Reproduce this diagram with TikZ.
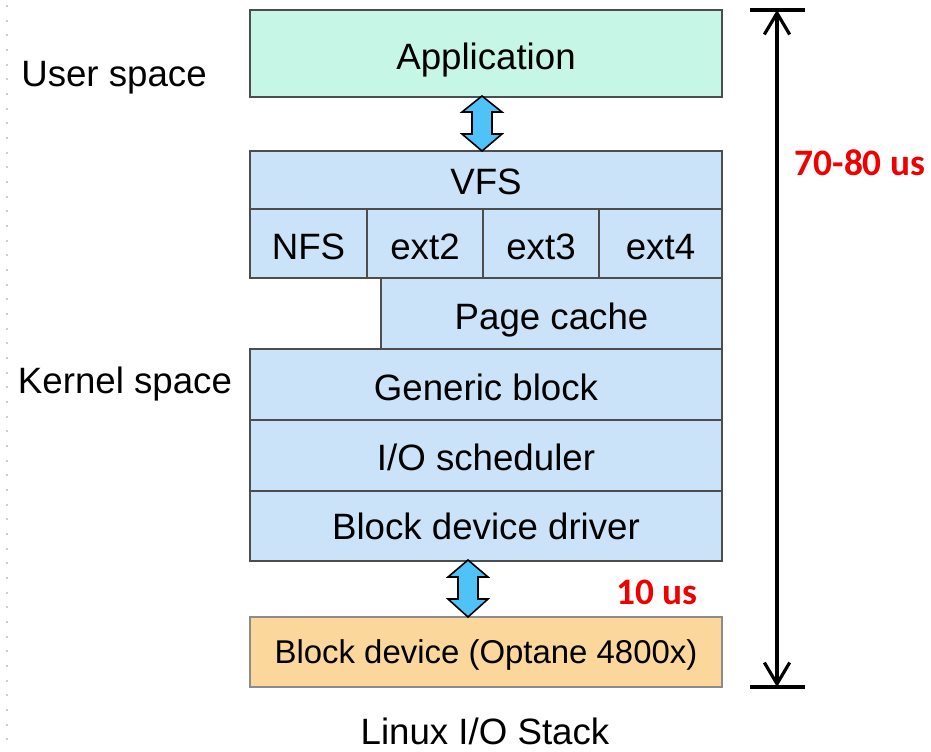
\documentclass[tikz,border=0pt]{standalone}
\usepackage{fontspec}
\setmainfont{Liberation Sans}
\newfontfamily\latfont{Carlito}
\usetikzlibrary{arrows.meta}
\definecolor{mintfill}{HTML}{C6F6E6}
\definecolor{layerfill}{HTML}{CBE3F8}
\definecolor{devfill}{HTML}{FBD79B}
\definecolor{boxline}{HTML}{4D4D4D}
\definecolor{devline}{HTML}{8C8C8C}
\definecolor{arrowfill}{HTML}{4FC3F7}
\definecolor{latred}{HTML}{F00000}
\tikzset{
  layer/.style={draw=boxline, line width=1.5pt, fill=layerfill},
  layertext/.style={font=\fontsize{27.5}{33}\selectfont, inner sep=0pt, anchor=base},
  sidelabel/.style={font=\fontsize{27.5}{33}\selectfont, inner sep=0pt, anchor=base},
  latency/.style={font=\latfont\bfseries\fontsize{28}{33}\selectfont, text=latred, inner sep=0pt, anchor=base},
  flowarrow/.style={draw=black, line width=1.2pt, fill=arrowfill, line join=miter},
}
% name, x0, y0, x1, y1, baseline, text
\newcommand{\layerbox}[7]{%
  \path[layer] (#2,#3) rectangle (#4,#5);
  \node[layertext] (#1) at ({(#2+#4)/2},#6) {#7};
}
% vertical double arrow: cx, top tip, head base top, head base bottom, bottom tip
\newcommand{\dblarrow}[5]{%
  \path[flowarrow] (#1,#2) -- (#1+20,#3) -- (#1+10,#3) -- (#1+10,#4) -- (#1+20,#4)
    -- (#1,#5) -- (#1-20,#4) -- (#1-10,#4) -- (#1-10,#3) -- (#1-20,#3) -- cycle;
}
\begin{document}
\begin{tikzpicture}[x=0.75pt,y=-0.75pt]
  \useasboundingbox[fill=white] (0,0) rectangle (931,751);
  % faint guide dots at the left edge
  \draw[gray!40, line width=1.2pt, dash pattern=on 1.5pt off 9.5pt] (7,5) -- (7,748);

  % application layer
  \path[layer, fill=mintfill] (250,10) rectangle (722,97);
  \node[layertext] (app) at (486,69) {Application};

  % kernel layers
  \layerbox{vfs}{250}{151}{722}{209}{194}{VFS}
  \layerbox{nfs}{250}{209}{367}{278}{259}{NFS}
  \layerbox{exttwo}{367}{209}{483}{278}{259}{ext2}
  \layerbox{extthree}{483}{209}{599}{278}{259}{ext3}
  \layerbox{extfour}{599}{209}{722}{278}{259}{ext4}
  \layerbox{cache}{381}{278}{722}{349}{329}{Page cache}
  \layerbox{generic}{250}{349}{722}{420}{400}{Generic block}
  \layerbox{sched}{250}{420}{722}{491}{470}{I/O scheduler}
  \layerbox{driver}{250}{491}{722}{561}{539}{Block device driver}

  % device
  \path[layer, draw=devline, fill=devfill] (250,617) rectangle (722,687);
  \node[layertext, font=\fontsize{24.7}{30}\selectfont] (dev) at (486,663) {Block device (Optane 4800x)};

  % data flow arrows
  \dblarrow{482}{96}{112}{134}{151}
  \dblarrow{468}{560}{577}{599}{617}

  % side labels
  \node[sidelabel] (user) at (114,86) {User space};
  \node[sidelabel] (kernel) at (125,393) {Kernel space};
  \node[sidelabel] (title) at (485,744) {Linux I/O Stack};

  % total latency span
  \coordinate (spantop) at (777,10);
  \coordinate (spanbot) at (777,687);
  \draw[line width=2.4pt] (750,10) -- (805,10);
  \draw[line width=2.4pt] (750,687) -- (805,687);
  \draw[line width=2.4pt, {Straight Barb[length=16pt,width=19pt,line width=2.4pt]}-{Straight Barb[length=16pt,width=19pt,line width=2.4pt]}]
    (spantop) -- (spanbot);
  \node[latency] (total) at (860,175) {70-80 us};
  \node[latency] (devlat) at (657,604) {10 us};
\end{tikzpicture}
\end{document}
